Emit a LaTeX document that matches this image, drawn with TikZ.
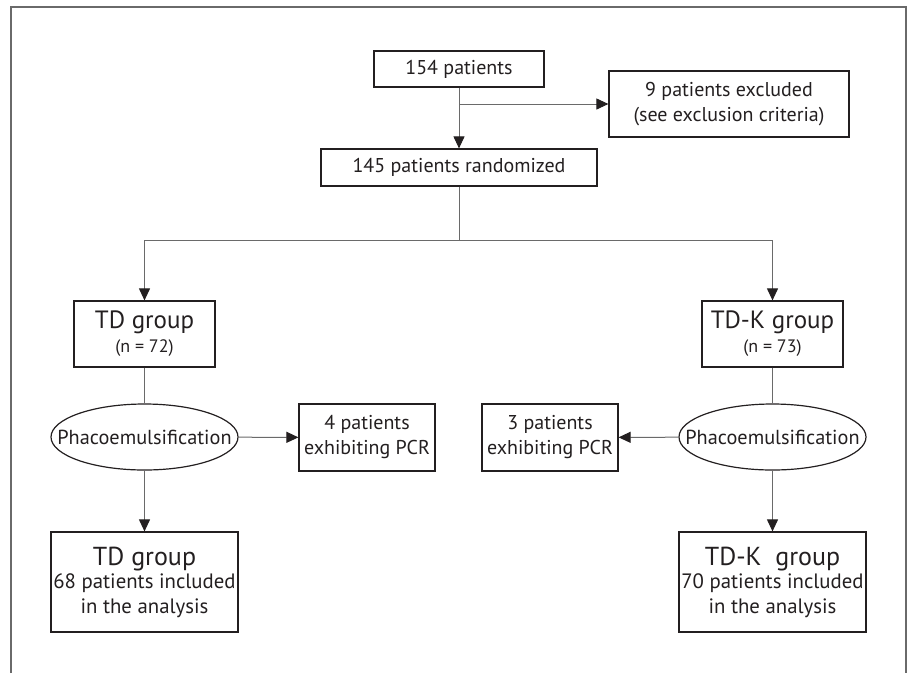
\documentclass[tikz,border=0pt]{standalone}
\usepackage{fontspec}
\setmainfont{PT Sans}
\usepackage{tikz}
\usetikzlibrary{shapes,arrows.meta,positioning,calc}
\usepackage{xcolor}
\definecolor{ink}{HTML}{231F20}
\definecolor{wire}{HTML}{6A6A6A}

\begin{document}
\begin{tikzpicture}[
    x=1pt, y=-1pt,
    box/.style={rectangle, draw=ink, line width=1.2pt, text=ink, align=center, inner sep=0pt, font=\fontsize{20}{25}\selectfont},
    oval/.style={ellipse, draw=ink, line width=1.2pt, inner sep=0pt, minimum width=187pt, minimum height=66pt,
        label={[text=ink, font=\fontsize{20.3}{25}\selectfont]center:#1}},
    line/.style={draw=wire, line width=1pt},
    arrow/.style={line, -{Triangle[length=12pt, width=11pt, color=ink]}}
]
\useasboundingbox (0,0) rectangle (908,673);

% Outer frame (open at the bottom)
\draw[draw=wire, line width=2pt] (11,673) -- (11,6.7) -- (906,6.7) -- (906,673);

% Enrolment
\node[box, minimum width=170pt, minimum height=36pt] (start) at (459,69) {154 patients};
\node[box, minimum width=240pt, minimum height=66pt] (excl) at (729,104) {9 patients excluded\\(see exclusion criteria)};
\node[box, minimum width=276pt, minimum height=37pt] (rand) at (459,167.5) {145 patients randomized};

% Groups
\node[box, minimum width=141pt, minimum height=66pt] (td) at (144.5,334) {{\fontsize{25}{28}\selectfont TD group}\\[-1pt]{\fontsize{18}{20}\selectfont (n = 72)}};
\node[box, minimum width=141pt, minimum height=66pt] (tdk) at (772.5,334) {{\fontsize{25}{28}\selectfont TD-K group}\\[-1pt]{\fontsize{18}{20}\selectfont (n = 73)}};

% Surgery
\node[oval=Phacoemulsification] (phacoL) at (144.5,437) {};
\node[oval=Phacoemulsification] (phacoR) at (772.5,437) {};
\node[box, minimum width=136pt, minimum height=67pt] (pcrL) at (367,437.5) {4 patients\\exhibiting PCR};
\node[box, minimum width=136pt, minimum height=67pt] (pcrR) at (550,437.5) {3 patients\\exhibiting PCR};

% Analysis
\node[box, minimum width=187pt, minimum height=100pt, font=\fontsize{20.8}{25}\selectfont] (outL) at (144.5,582) {{\fontsize{26}{28}\selectfont TD group}\\[-2pt]68 patients included\\in the analysis};
\node[box, minimum width=187pt, minimum height=100pt, font=\fontsize{20.8}{25}\selectfont] (outR) at (772.5,582) {{\fontsize{26}{28}\selectfont TD-K~~group}\\[-2pt]70 patients included\\in the analysis};

% Arrows
\coordinate (fork) at (459,104);
\coordinate (split) at (459,240);
\draw[arrow] (start) -- (rand);
\draw[arrow] (fork) -- (excl);
\draw[line] (rand) -- (split);
\draw[arrow] (split) -| (td);
\draw[arrow] (split) -| (tdk);
\draw[line] (td) -- (phacoL);
\draw[line] (tdk) -- (phacoR);
\draw[arrow] (phacoL) -- (pcrL);
\draw[arrow] (phacoR) -- (pcrR);
\draw[arrow] (phacoL) -- (outL);
\draw[arrow] (phacoR) -- (outR);

\end{tikzpicture}
\end{document}
